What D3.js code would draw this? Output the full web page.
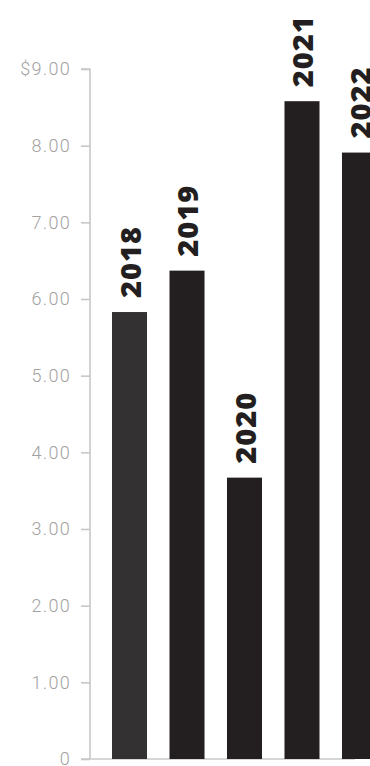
<!DOCTYPE html>
<html>
<head>
<meta charset="utf-8">
<script src="https://cdn.jsdelivr.net/npm/d3@7"></script>
<style>
  html, body { margin: 0; padding: 0; background: #fff; }
  svg { display: block; }
</style>
</head>
<body>
<svg id="chart" width="370" height="766"></svg>
<script>
const categories = ["2018", "2019", "2020", "2021", "2022"];
const values = [5.83, 6.37, 3.67, 8.58, 7.91];
const barColors = ["#333132", "#231f20", "#231f20", "#231f20", "#231f20"];
const tickValues = [0, 1, 2, 3, 4, 5, 6, 7, 8, 9];
const tickLabels = ["0", "1.00", "2.00", "3.00", "4.00", "5.00", "6.00", "7.00", "8.00", "$9.00"];

const svg = d3.select("#chart");

const y = d3.scaleLinear().domain([0, 9]).range([759, 69]);
const x = d3.scaleBand().domain(categories).range([112, 377]).paddingInner(0.391).paddingOuter(0);

// Axis
const axis = d3.axisLeft(y)
  .tickValues(tickValues)
  .tickSize(9)
  .tickPadding(10)
  .tickFormat((d, i) => tickLabels[i]);

const g = svg.append("g").attr("transform", "translate(90,0)").call(axis);
g.select(".domain").attr("stroke", "#c8c8c8").attr("stroke-width", 1.6).attr("d", `M-9,${y(9)}H0V${y(0)}`);
g.selectAll(".tick line").attr("stroke", "#c8c8c8").attr("stroke-width", 1.6);
g.selectAll(".tick text")
  .attr("fill", "#a2a2a2")
  .style("font-family", "Roboto, 'Open Sans', sans-serif")
  .style("font-weight", 300)
  .style("font-size", "18px")
  .style("letter-spacing", "1.3px");

// Baseline
svg.append("line")
  .attr("x1", 81).attr("x2", 355)
  .attr("y1", y(0)).attr("y2", y(0))
  .attr("stroke", "#c8c8c8").attr("stroke-width", 1.6);

// Bars
svg.selectAll("rect.bar")
  .data(categories)
  .join("rect")
  .attr("class", "bar")
  .attr("x", d => x(d))
  .attr("width", x.bandwidth())
  .attr("y", (d, i) => y(values[i]))
  .attr("height", (d, i) => y(0) - y(values[i]))
  .attr("fill", (d, i) => barColors[i]);

// Labels
svg.selectAll("text.lbl")
  .data(categories)
  .join("text")
  .attr("class", "lbl")
  .attr("transform", (d, i) => `translate(${x(d) + x.bandwidth() / 2 + 1},${y(values[i]) - 14}) rotate(-90)`)
  .attr("dy", "0.36em")
  .attr("text-anchor", "start")
  .attr("fill", "#231f20")
  .style("font-family", "'Open Sans', sans-serif")
  .style("font-weight", 800)
  .style("font-size", "29px")
  .style("letter-spacing", "1px")
  .text(d => d);
</script>
</body>
</html>
